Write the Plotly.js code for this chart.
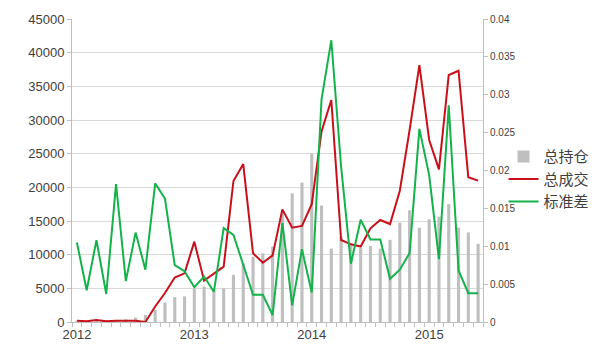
<!DOCTYPE html>
<html>
<head>
<meta charset="utf-8">
<script src="https://cdn.plot.ly/plotly-3.0.1.min.js"></script>
<style>html,body{margin:0;padding:0;background:#fff;}#chart{width:603px;height:359px;}</style>
</head>
<body>
<div id="chart"></div>
<script>
// months 2012-01 .. 2015-06
var months = ["2012-01","2012-02","2012-03","2012-04","2012-05","2012-06","2012-07","2012-08","2012-09","2012-10","2012-11","2012-12",
"2013-01","2013-02","2013-03","2013-04","2013-05","2013-06","2013-07","2013-08","2013-09","2013-10","2013-11","2013-12",
"2014-01","2014-02","2014-03","2014-04","2014-05","2014-06","2014-07","2014-08","2014-09","2014-10","2014-11","2014-12",
"2015-01","2015-02","2015-03","2015-04","2015-05","2015-06"];
var tickLabels = ["2012","","","","","","","","","","","",
"2013","","","","","","","","","","","",
"2014","","","","","","","","","","","",
"2015","","","","",""];
// 总持仓 (left axis)
var totalPosition = [100,150,200,200,300,400,650,1050,1800,2900,3700,3800,
4950,5250,4800,5000,7000,8700,9700,10200,11200,16500,19100,20700,
25000,17300,10900,12600,11400,11000,11300,10900,12200,14750,16600,14000,
15250,15640,17500,14000,13300,11600];
// 总成交 (left axis)
var totalVolume = [200,100,300,100,200,200,200,0,2300,4300,6600,7230,
11930,6140,7230,8220,20940,23460,10200,8810,9900,16730,14000,14260,
17500,28300,32970,12180,11540,11200,13910,15150,14550,19500,28510,38160,
27030,22670,36680,37320,21490,20990];
// 标准差 (right axis)
var stdDev = [0.0105,0.0042,0.0108,0.0037,0.0182,0.0054,0.0118,0.0069,0.0183,0.0163,0.0075,0.0067,
0.0046,0.0060,0.0040,0.0124,0.0115,0.0075,0.0036,0.0036,0.0009,0.0131,0.0022,0.0096,
0.0039,0.0294,0.0372,0.0205,0.0077,0.0135,0.0109,0.0109,0.0057,0.0069,0.0091,0.0255,
0.0194,0.0083,0.0286,0.0068,0.0038,0.0038];

var traces = [
  {type:'bar', name:'总持仓', x:months, y:totalPosition, marker:{color:'#bfbfbf'}, yaxis:'y', hoverinfo:'none'},
  {type:'scatter', mode:'lines', name:'总成交', x:months, y:totalVolume, line:{color:'#c8101a', width:2}, yaxis:'y'},
  {type:'scatter', mode:'lines', name:'标准差', x:months, y:stdDev, line:{color:'#14b24a', width:2}, yaxis:'y2'}
];

var fontFam = 'Liberation Sans, Arial, sans-serif';
var layout = {
  width:603, height:359,
  margin:{l:72, r:120, t:19, b:37, autoexpand:false},
  paper_bgcolor:'#ffffff', plot_bgcolor:'#ffffff',
  bargap:0.68,
  showlegend:true,
  legend:{x:1.05, y:0.6, xanchor:'left', yanchor:'top', itemwidth:30, font:{family:'Noto Sans CJK SC, sans-serif', size:15, color:'#404040'}, bgcolor:'rgba(0,0,0,0)', tracegroupgap:0},
  xaxis:{type:'category', tickmode:'array', tickvals:months, ticktext:tickLabels, tickson:'boundaries', tickangle:0,
    ticks:'outside', ticklen:4, tickcolor:'#bfbfbf', showline:true, linecolor:'#bfbfbf', linewidth:1,
    showgrid:false, tickfont:{family:fontFam, size:13, color:'#404040'}, range:[-0.5,41.5], zeroline:false},
  yaxis:{range:[0,45000], dtick:5000, tickformat:'d', showgrid:true, gridcolor:'#d9d9d9', gridwidth:1,
    showline:true, linecolor:'#bfbfbf', ticks:'outside', ticklen:4, tickcolor:'#bfbfbf', zeroline:false,
    tickfont:{family:fontFam, size:13, color:'#404040'}},
  yaxis2:{range:[0,0.04], dtick:0.005, overlaying:'y', side:'right', showgrid:false,
    showline:true, linecolor:'#bfbfbf', ticks:'outside', ticklen:4, tickcolor:'#bfbfbf', zeroline:false,
    tickfont:{family:fontFam, size:10, color:'#404040'}}
};
Plotly.newPlot('chart', traces, layout, {staticPlot:true, displayModeBar:false});
</script>
</body>
</html>
